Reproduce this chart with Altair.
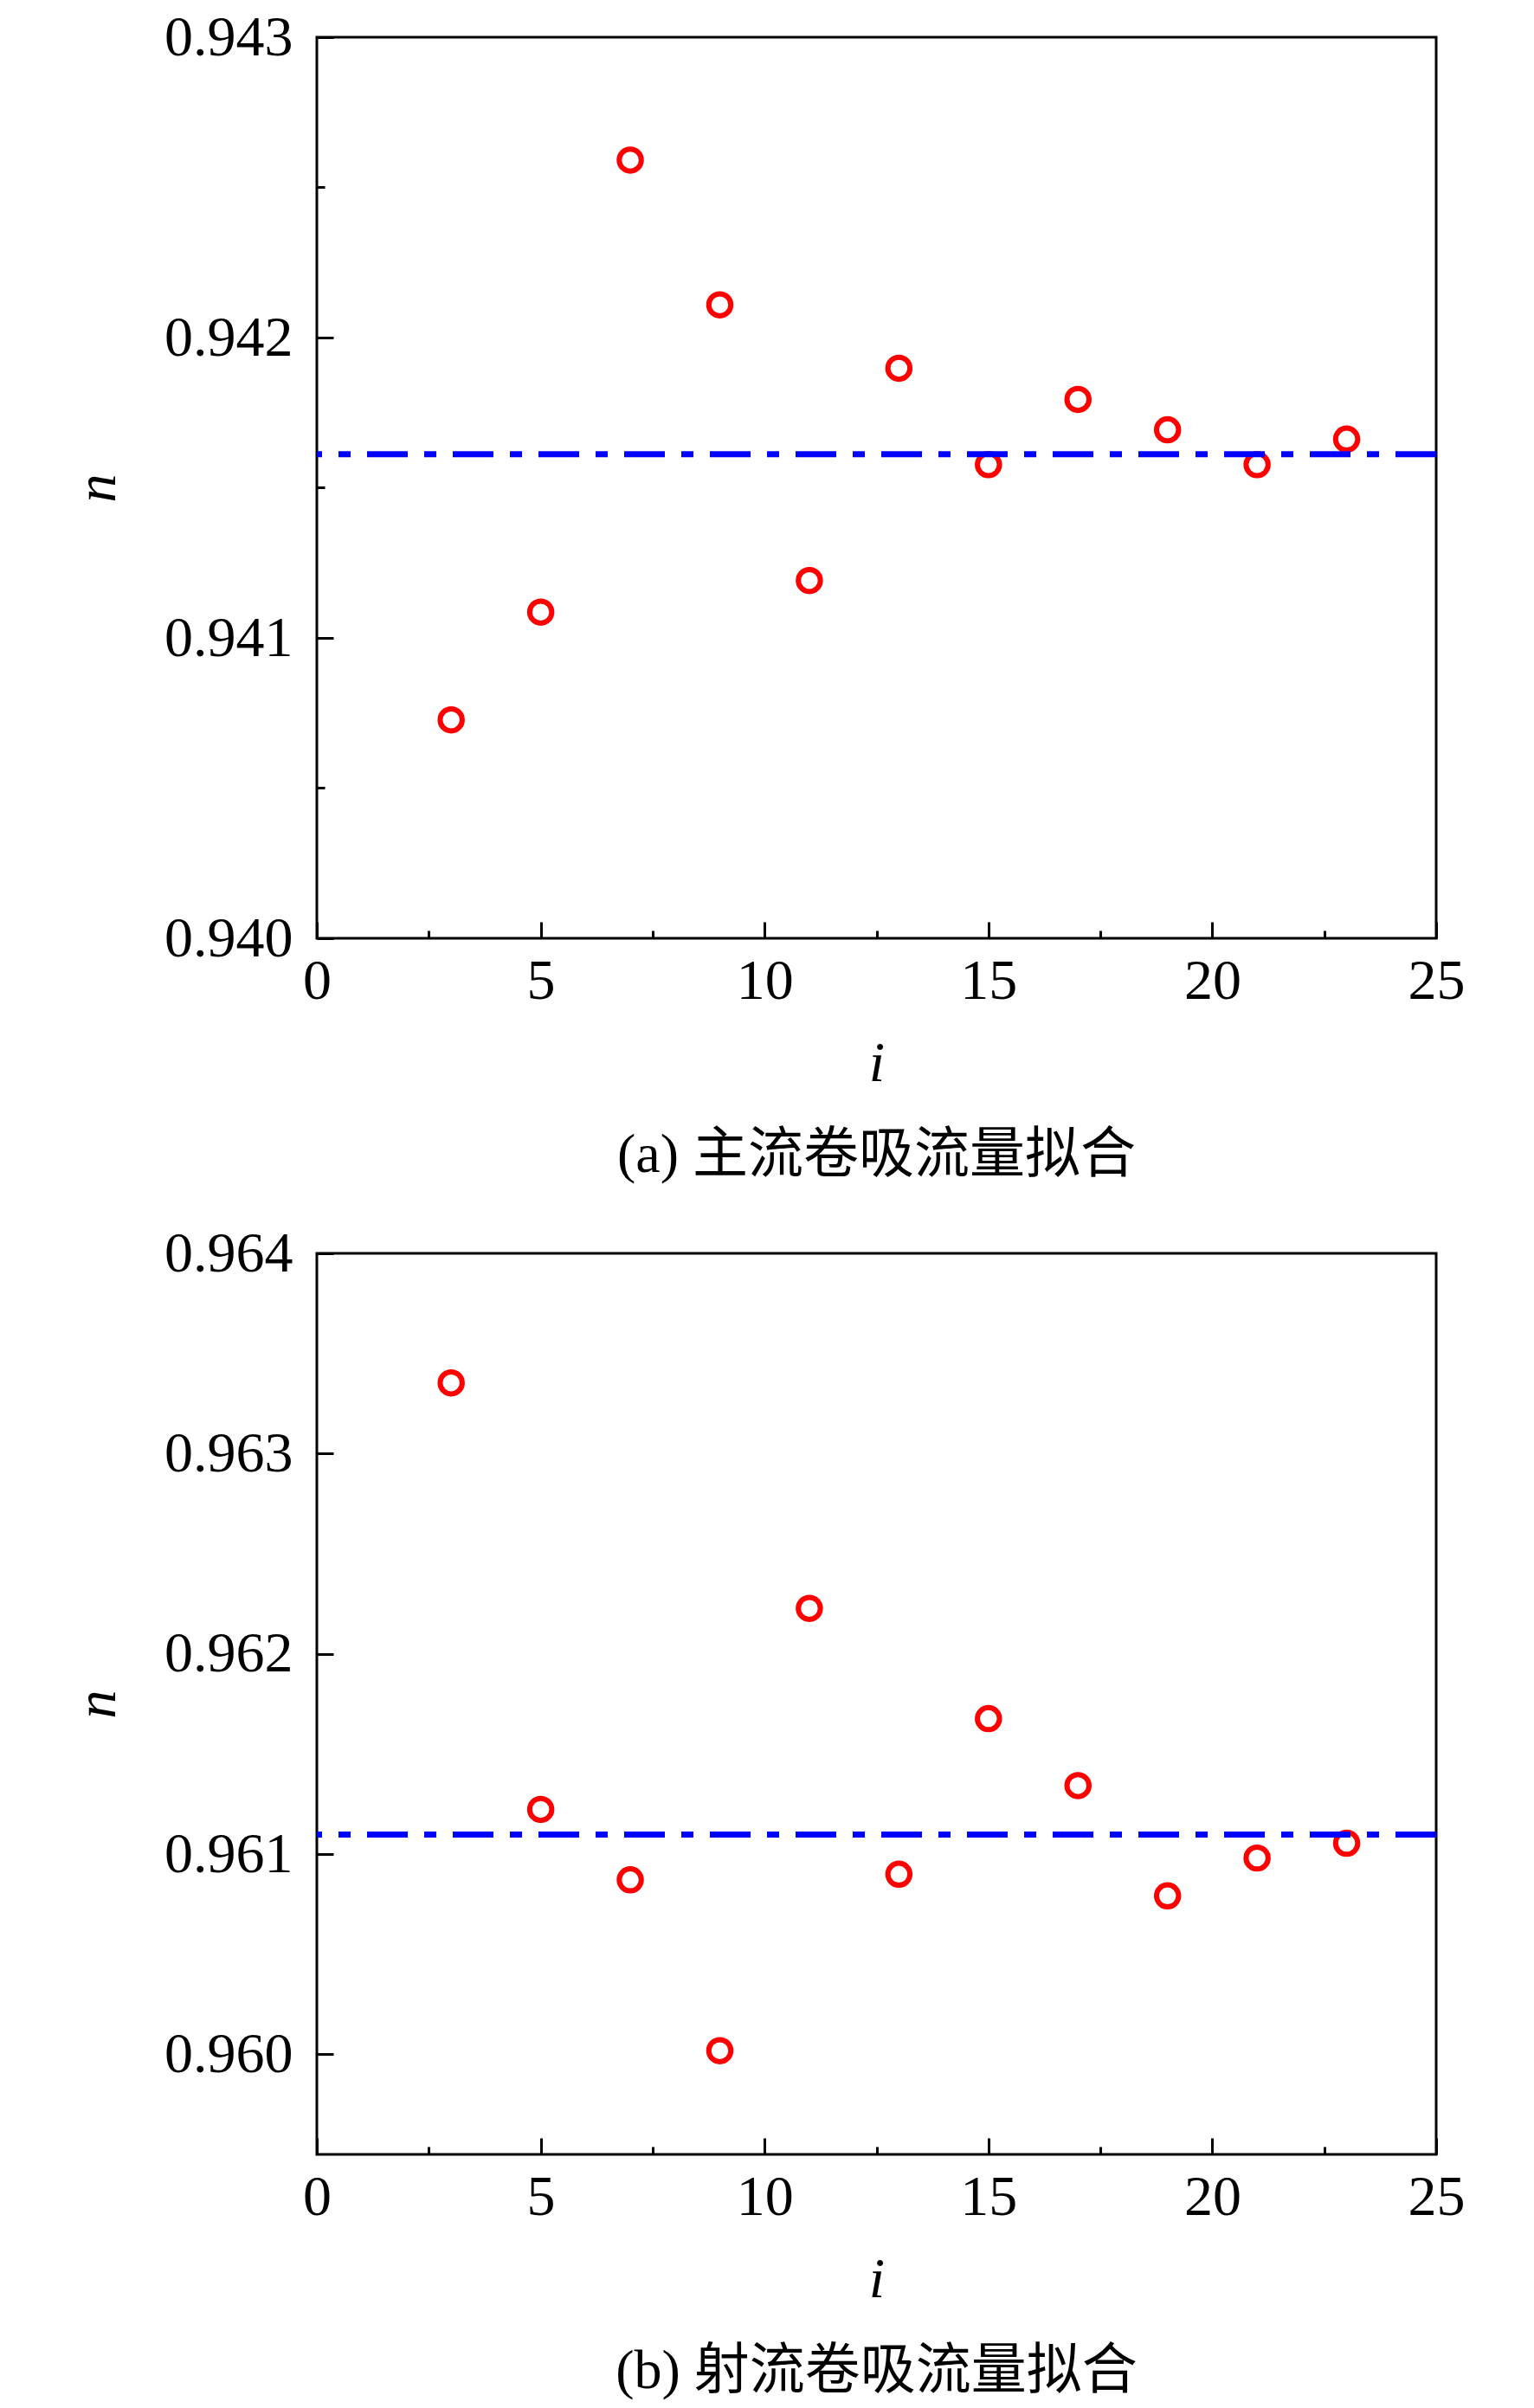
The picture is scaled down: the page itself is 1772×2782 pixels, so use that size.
import altair as alt
import pandas as pd

# ---- data ----
i_vals = [3, 5, 7, 9, 11, 13, 15, 17, 19, 21, 23]
n_a = [0.940727, 0.941086, 0.942591, 0.942109, 0.941191, 0.941898,
       0.941577, 0.941794, 0.941693, 0.941577, 0.941662]
fit_a = 0.941612
n_b = [0.963353, 0.961223, 0.960871, 0.960018, 0.962227, 0.960899,
       0.961676, 0.961342, 0.960791, 0.960980, 0.961054]
fit_b = 0.961097

x_ticks = [0, 2.5, 5, 7.5, 10, 12.5, 15, 17.5, 20, 22.5, 25]
y_ticks_a = [0.940, 0.9405, 0.941, 0.9415, 0.942, 0.9425, 0.943]
y_ticks_b = [0.960, 0.961, 0.962, 0.963, 0.964]
caption_a = "(a) 主流卷吸流量拟合"
caption_b = "(b) 射流卷吸流量拟合"

SERIF = "Liberation Serif"
CJK = "Liberation Serif, Noto Sans CJK SC"
FS = 66
MAJ = 19
MIN = 9

x_minor = "datum.value % 5 != 0"
y_minor = "round(datum.value * 10000) % 10 != 0"


def make_axis(values, minor_test, title, title_pad, label_pad, fmt_expr):
    return alt.Axis(
        values=values,
        title=title,
        titleFont=SERIF,
        titleFontSize=FS,
        titleFontStyle="italic",
        titleFontWeight="normal",
        titleColor="black",
        titlePadding=title_pad,
        domain=False,
        grid=False,
        offset=-MAJ,
        tickSize=MAJ,
        tickWidth=3,
        tickColor="black",
        tickDash={"condition": {"test": minor_test, "value": [MIN, MAJ - MIN]},
                  "value": [MAJ, 0]},
        tickDashOffset={"condition": {"test": minor_test, "value": MIN},
                        "value": 0},
        labelFont=SERIF,
        labelFontSize=FS,
        labelColor="black",
        labelPadding=label_pad,
        labelFlush=False,
        labelOverlap=False,
        labelExpr=f"({minor_test}) ? '' : {fmt_expr}",
    )


def panel(ns, fit, ydom, yticks, caption):
    df = pd.DataFrame({"i": i_vals, "n": ns})
    xa = make_axis(x_ticks, x_minor, "i", 30, 17, "datum.label")
    ya = make_axis(yticks, y_minor, "n", 43, 28, "format(datum.value, '.3f')")
    x = alt.X("i:Q", scale=alt.Scale(domain=[0, 25], nice=False, zero=False), axis=xa)
    y = alt.Y("n:Q", scale=alt.Scale(domain=ydom, nice=False, zero=False), axis=ya)
    pts = alt.Chart(df).mark_point(
        shape="circle", filled=False, color="#ff0000", size=650, strokeWidth=6, opacity=1
    ).encode(x=x, y=y)
    rule = alt.Chart(pd.DataFrame({"n": [fit]})).mark_rule(
        color="#0000ff", strokeWidth=7, strokeDash=[47, 19, 14, 19]
    ).encode(y=alt.Y("n:Q"))
    return alt.layer(pts, rule).properties(
        width=1293,
        height=1041,
        title=alt.TitleParams(
            caption, orient="bottom", frame="group", anchor="middle",
            font=CJK, fontSize=64, fontWeight="normal", color="black", offset=42,
        ),
    )


top = panel(n_a, fit_a, [0.940, 0.943], y_ticks_a, caption_a)
bottom = panel(n_b, fit_b, [0.9595, 0.964], y_ticks_b, caption_b)

chart = alt.vconcat(top, bottom, spacing=44).properties(
    padding={"left": 70, "top": 0, "right": 5, "bottom": 5}
).configure(
    background="white",
    view=alt.ViewConfig(stroke="black", strokeWidth=3),
)

chart.save("out.html", embed_options={"renderer": "svg", "actions": False})
